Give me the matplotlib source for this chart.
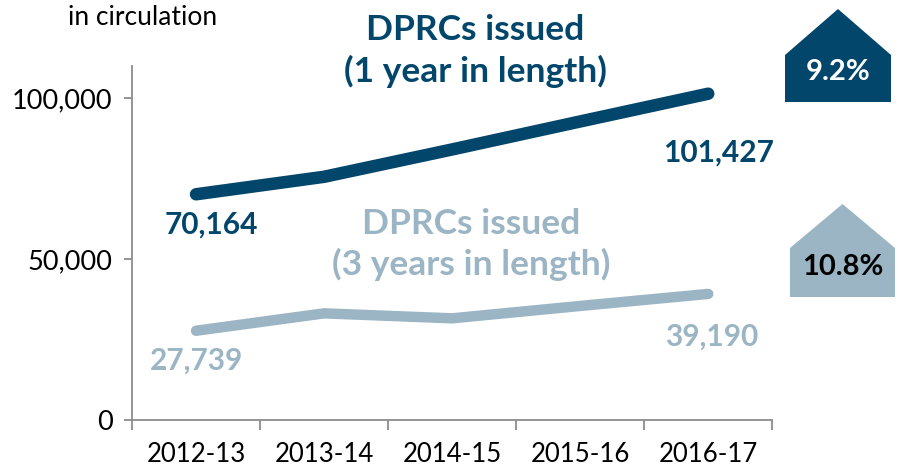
import matplotlib
matplotlib.use("Agg")
import matplotlib.pyplot as plt
from matplotlib.patches import Polygon

plt.rcParams['font.family'] = ['Lato', 'DejaVu Sans']

years = ["2012-13", "2013-14", "2014-15", "2015-16", "2016-17"]
one_year = [70164, 75600, 84100, 92800, 101427]
three_year = [27739, 33150, 31600, 35450, 39190]
changes = ["9.2%", "10.8%"]

dark = "#03466b"
light = "#9bb5c4"
grey = "#8c8c8c"

fig = plt.figure(figsize=(8.98, 4.69), dpi=100)
ax = fig.add_axes([0.147, 0.1045, 0.713, 0.7545])

x = range(len(years))
ax.plot(x, one_year, color=dark, lw=9, solid_capstyle='round', solid_joinstyle='round')
ax.plot(x, three_year, color=light, lw=7.5, solid_capstyle='round', solid_joinstyle='round')

ax.set_xlim(-0.5, 4.5)
ax.set_ylim(0, 110000)
ax.set_yticks([0, 50000, 100000])
ax.set_yticklabels(["0", "50,000", "100,000"])
ax.set_xticks(list(x))
ax.set_xticklabels(years)
ax.set_xticks([i - 0.5 for i in range(len(years) + 1)], minor=True)
ax.tick_params(axis='x', which='major', length=0, pad=16, labelsize=18.5)
ax.tick_params(axis='x', which='minor', length=7, width=1.3, color=grey)
ax.tick_params(axis='y', length=6, width=1.3, color=grey, labelsize=19.5, pad=8)
for s in ['top', 'right']:
    ax.spines[s].set_visible(False)
for s in ['left', 'bottom']:
    ax.spines[s].set_color(grey)
    ax.spines[s].set_linewidth(1.3)

# value labels
lab = dict(textcoords='offset pixels', ha='center', va='center', fontsize=21.5, fontweight='bold')
ax.annotate(f"{one_year[0]:,}", (0, one_year[0]), xytext=(15, -30), color=dark, **lab)
ax.annotate(f"{one_year[-1]:,}", (4, one_year[-1]), xytext=(10, -59), color=dark, **lab)
ax.annotate(f"{three_year[0]:,}", (0, three_year[0]), xytext=(0, -30), color=light, **lab)
ax.annotate(f"{three_year[-1]:,}", (4, three_year[-1]), xytext=(3, -43), color=light, **lab)

# series titles
fig.text(0.529, 0.891, "DPRCs issued\n(1 year in length)", ha='center', va='center',
         fontsize=25.5, fontweight='bold', color=dark, linespacing=1.3)
fig.text(0.525, 0.479, "DPRCs issued\n(3 years in length)", ha='center', va='center',
         fontsize=25.5, fontweight='bold', color=light, linespacing=1.3)

fig.text(0.076, 0.963, "in circulation", ha='left', va='center', fontsize=19)

# change badges
W, H = 898.0, 469.0
def badge(x0, x1, ytop, yshoulder, ybot, color, label, tcolor):
    pts = [(x0, ybot), (x0, yshoulder), ((x0 + x1) / 2, ytop), (x1, yshoulder), (x1, ybot)]
    pts = [(px / W, 1 - py / H) for px, py in pts]
    fig.patches.append(Polygon(pts, closed=True, facecolor=color, edgecolor='none',
                               transform=fig.transFigure, figure=fig))
    fig.text((x0 + x1) / 2 / W, 1 - ((yshoulder + ybot) / 2 - 6) / H, label, ha='center', va='center',
             fontsize=21, fontweight='bold', color=tcolor)

badge(785, 891, 9, 55, 102, dark, changes[0], 'white')
badge(790, 895, 204, 248, 297, light, changes[1], 'black')

fig.savefig("out.png", dpi=100)
